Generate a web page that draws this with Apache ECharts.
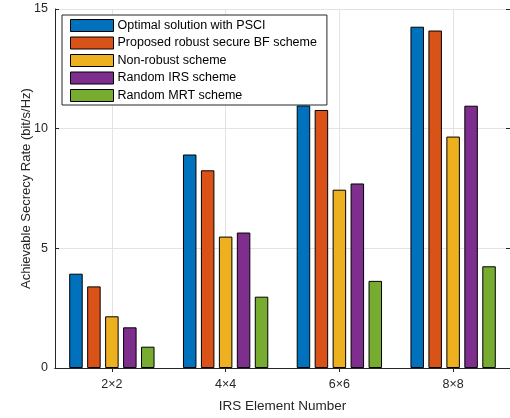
<!DOCTYPE html>
<html>
<head>
<meta charset="utf-8">
<script src="https://cdn.jsdelivr.net/npm/echarts@6/dist/echarts.min.js"></script>
<style>
  html, body { margin: 0; padding: 0; background: #fff; }
  #chart { width: 510px; height: 418px; }
</style>
</head>
<body>
<div id="chart"></div>
<script>
// IRS sizes on the horizontal axis
const categories = ['2\u00d72', '4\u00d74', '6\u00d76', '8\u00d78'];

// Achievable secrecy rate (bit/s/Hz) per scheme
const optimalPSCI   = [3.94, 8.92, 10.97, 14.26];
const proposedBF    = [3.41, 8.26, 10.78, 14.10];
const nonRobust     = [2.16, 5.49, 7.45, 9.67];
const randomIRS     = [1.70, 5.66, 7.71, 10.96];
const randomMRT     = [0.89, 2.98, 3.64, 4.25];

const seriesNames = [
  'Optimal solution with PSCI',
  'Proposed robust secure BF scheme',
  'Non-robust scheme',
  'Random IRS scheme',
  'Random MRT scheme'
];
const seriesData = [optimalPSCI, proposedBF, nonRobust, randomIRS, randomMRT];
const colors = ['#0072BD', '#D95319', '#EDB120', '#7E2F8E', '#77AC30'];

const yTicks = { min: 0, max: 15, interval: 5 };

const textColor = '#262626';
const font = 'Liberation Sans, Arial, Helvetica, sans-serif';

const chart = echarts.init(document.getElementById('chart'), null, { renderer: 'canvas' });

const series = seriesNames.map((name, i) => ({
  name: name,
  type: 'bar',
  data: seriesData[i],
  barWidth: 13.5,
  barGap: '33%',
  itemStyle: { color: colors[i], borderColor: '#000', borderWidth: 1 },
  emphasis: { disabled: true }
}));

chart.setOption({
  animation: false,
  backgroundColor: '#fff',
  textStyle: { fontFamily: font, color: textColor },
  grid: { left: 55, top: 9, width: 459, height: 360, containLabel: false },
  legend: {
    data: seriesNames,
    orient: 'vertical',
    left: 62,
    top: 15,
    padding: [4, 10, 3, 8],
    itemWidth: 43,
    itemHeight: 12,
    itemGap: 4.5,
    backgroundColor: '#fff',
    borderColor: '#262626',
    borderWidth: 1,
    icon: 'rect',
    itemStyle: { borderColor: '#000', borderWidth: 1 },
    textStyle: { fontFamily: font, fontSize: 12.5, color: '#000', padding: [0, 0, 0, -1], lineHeight: 12 },
    selectedMode: false
  },
  xAxis: [
    {
      type: 'category',
      data: categories,
      position: 'bottom',
      axisLine: { lineStyle: { color: textColor, width: 1 } },
      axisTick: { show: true, inside: true, alignWithLabel: true, length: 4, lineStyle: { color: textColor } },
      axisLabel: { fontFamily: font, fontSize: 12.5, color: textColor, margin: 10 },
      splitLine: { show: true, alignWithLabel: true, lineStyle: { color: '#e3e3e3', width: 1 } },
      name: 'IRS Element Number',
      nameLocation: 'middle',
      nameGap: 31,
      nameMoveOverlap: false,
      nameTextStyle: { fontFamily: font, fontSize: 13.5, color: textColor }
    },
    {
      type: 'category',
      data: categories,
      position: 'top',
      axisLine: { lineStyle: { color: textColor, width: 1 } },
      axisTick: { show: true, inside: true, alignWithLabel: true, length: 4, lineStyle: { color: textColor } },
      axisLabel: { show: false },
      splitLine: { show: false }
    }
  ],
  yAxis: [
    {
      type: 'value',
      min: yTicks.min,
      max: yTicks.max,
      interval: yTicks.interval,
      position: 'left',
      axisLine: { show: true, lineStyle: { color: textColor, width: 1 } },
      axisTick: { show: true, inside: true, length: 4, lineStyle: { color: textColor } },
      axisLabel: { fontFamily: font, fontSize: 12.5, color: textColor, margin: 7 },
      splitLine: { show: true, lineStyle: { color: '#e3e3e3', width: 1 } },
      name: 'Achievable Secrecy Rate (bit/s/Hz)',
      nameLocation: 'middle',
      nameGap: 22,
      nameMoveOverlap: false,
      nameTextStyle: { fontFamily: font, fontSize: 13, color: textColor }
    },
    {
      type: 'value',
      min: yTicks.min,
      max: yTicks.max,
      interval: yTicks.interval,
      position: 'right',
      axisLine: { show: true, lineStyle: { color: textColor, width: 1 } },
      axisTick: { show: true, inside: true, length: 4, lineStyle: { color: textColor } },
      axisLabel: { show: false },
      splitLine: { show: false }
    }
  ],
  series: series
});
</script>
</body>
</html>
